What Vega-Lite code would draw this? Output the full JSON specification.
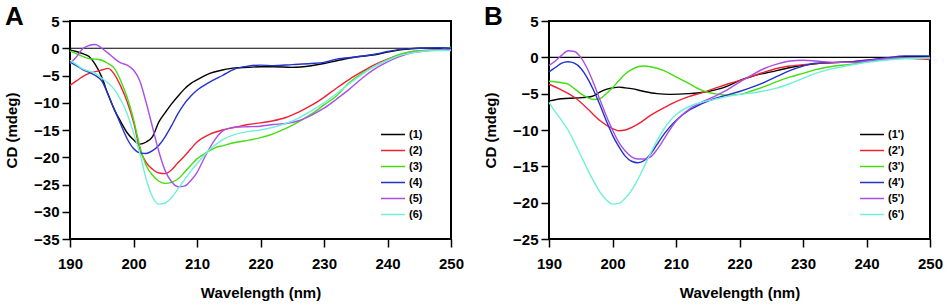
{
  "$schema": "https://vega.github.io/schema/vega-lite/v6.json",
  "background": "white",
  "padding": {"left": 3, "top": 3, "right": 0, "bottom": 0},
  "spacing": 17,
  "datasets": {
    "A": [
      {"s":"(1)","x":190,"y":-0.3},{"s":"(1)","x":191,"y":-0.6},{"s":"(1)","x":192,"y":-1},{"s":"(1)","x":193,"y":-1.5},{"s":"(1)","x":194,"y":-3},{"s":"(1)","x":195,"y":-5.3},{"s":"(1)","x":196,"y":-8.5},{"s":"(1)","x":197,"y":-11.3},{"s":"(1)","x":198,"y":-13.5},{"s":"(1)","x":199,"y":-15.5},{"s":"(1)","x":200,"y":-16.8},{"s":"(1)","x":201,"y":-17.6},{"s":"(1)","x":202,"y":-17.2},{"s":"(1)","x":203,"y":-16.2},{"s":"(1)","x":204,"y":-13.5},{"s":"(1)","x":205,"y":-11.8},{"s":"(1)","x":206,"y":-10.2},{"s":"(1)","x":207,"y":-8.8},{"s":"(1)","x":208,"y":-7.5},{"s":"(1)","x":209,"y":-6.5},{"s":"(1)","x":210,"y":-5.8},{"s":"(1)","x":212,"y":-4.6},{"s":"(1)","x":214,"y":-4},{"s":"(1)","x":216,"y":-3.6},{"s":"(1)","x":218,"y":-3.5},{"s":"(1)","x":220,"y":-3.4},{"s":"(1)","x":222,"y":-3.4},{"s":"(1)","x":225,"y":-3.5},{"s":"(1)","x":228,"y":-3.2},{"s":"(1)","x":230,"y":-2.8},{"s":"(1)","x":232,"y":-2.3},{"s":"(1)","x":235,"y":-1.6},{"s":"(1)","x":238,"y":-1.2},{"s":"(1)","x":240,"y":-0.7},{"s":"(1)","x":242,"y":-0.3},{"s":"(1)","x":245,"y":0},{"s":"(1)","x":248,"y":0},{"s":"(1)","x":250,"y":0},
      {"s":"(2)","x":190,"y":-6.8},{"s":"(2)","x":191,"y":-6},{"s":"(2)","x":192,"y":-5.2},{"s":"(2)","x":193,"y":-4.6},{"s":"(2)","x":194,"y":-4.3},{"s":"(2)","x":195,"y":-4},{"s":"(2)","x":196,"y":-3.7},{"s":"(2)","x":197,"y":-4.8},{"s":"(2)","x":198,"y":-7},{"s":"(2)","x":199,"y":-9.8},{"s":"(2)","x":200,"y":-13.5},{"s":"(2)","x":201,"y":-18.5},{"s":"(2)","x":202,"y":-21},{"s":"(2)","x":203,"y":-22.2},{"s":"(2)","x":204,"y":-22.9},{"s":"(2)","x":205,"y":-23},{"s":"(2)","x":206,"y":-22.3},{"s":"(2)","x":207,"y":-21},{"s":"(2)","x":208,"y":-19.8},{"s":"(2)","x":209,"y":-18.5},{"s":"(2)","x":210,"y":-17.2},{"s":"(2)","x":212,"y":-15.8},{"s":"(2)","x":214,"y":-15},{"s":"(2)","x":216,"y":-14.5},{"s":"(2)","x":218,"y":-14},{"s":"(2)","x":220,"y":-13.7},{"s":"(2)","x":222,"y":-13.3},{"s":"(2)","x":224,"y":-12.7},{"s":"(2)","x":226,"y":-11.7},{"s":"(2)","x":228,"y":-10.5},{"s":"(2)","x":230,"y":-9},{"s":"(2)","x":232,"y":-7.3},{"s":"(2)","x":234,"y":-5.7},{"s":"(2)","x":236,"y":-4.3},{"s":"(2)","x":238,"y":-3},{"s":"(2)","x":240,"y":-2},{"s":"(2)","x":242,"y":-1.2},{"s":"(2)","x":244,"y":-0.6},{"s":"(2)","x":246,"y":-0.4},{"s":"(2)","x":248,"y":-0.3},{"s":"(2)","x":250,"y":-0.2},
      {"s":"(3)","x":190,"y":-0.5},{"s":"(3)","x":192,"y":-1.5},{"s":"(3)","x":193,"y":-1.9},{"s":"(3)","x":194,"y":-2},{"s":"(3)","x":195,"y":-2.2},{"s":"(3)","x":196,"y":-2.8},{"s":"(3)","x":197,"y":-3.7},{"s":"(3)","x":198,"y":-6},{"s":"(3)","x":199,"y":-9},{"s":"(3)","x":200,"y":-13},{"s":"(3)","x":201,"y":-18},{"s":"(3)","x":202,"y":-21.5},{"s":"(3)","x":203,"y":-23.3},{"s":"(3)","x":204,"y":-24.4},{"s":"(3)","x":205,"y":-24.8},{"s":"(3)","x":206,"y":-24.6},{"s":"(3)","x":207,"y":-24},{"s":"(3)","x":208,"y":-22.8},{"s":"(3)","x":209,"y":-21.5},{"s":"(3)","x":210,"y":-20.3},{"s":"(3)","x":211,"y":-19.5},{"s":"(3)","x":212,"y":-18.8},{"s":"(3)","x":213,"y":-18.2},{"s":"(3)","x":214,"y":-17.9},{"s":"(3)","x":216,"y":-17.3},{"s":"(3)","x":218,"y":-16.9},{"s":"(3)","x":220,"y":-16.4},{"s":"(3)","x":222,"y":-15.7},{"s":"(3)","x":224,"y":-14.7},{"s":"(3)","x":226,"y":-13.5},{"s":"(3)","x":228,"y":-12.1},{"s":"(3)","x":230,"y":-10.4},{"s":"(3)","x":232,"y":-8.7},{"s":"(3)","x":234,"y":-6.3},{"s":"(3)","x":236,"y":-4.6},{"s":"(3)","x":238,"y":-3.3},{"s":"(3)","x":240,"y":-2.1},{"s":"(3)","x":242,"y":-1.1},{"s":"(3)","x":244,"y":-0.6},{"s":"(3)","x":246,"y":-0.4},{"s":"(3)","x":248,"y":-0.3},{"s":"(3)","x":250,"y":0.2},
      {"s":"(4)","x":190,"y":-2.5},{"s":"(4)","x":191,"y":-3.2},{"s":"(4)","x":192,"y":-3.9},{"s":"(4)","x":193,"y":-4.4},{"s":"(4)","x":194,"y":-5},{"s":"(4)","x":195,"y":-6},{"s":"(4)","x":196,"y":-8.5},{"s":"(4)","x":197,"y":-11.3},{"s":"(4)","x":198,"y":-14},{"s":"(4)","x":199,"y":-16.6},{"s":"(4)","x":200,"y":-18.4},{"s":"(4)","x":201,"y":-19.2},{"s":"(4)","x":202,"y":-19.3},{"s":"(4)","x":203,"y":-18.8},{"s":"(4)","x":204,"y":-17.8},{"s":"(4)","x":205,"y":-16.2},{"s":"(4)","x":206,"y":-14.2},{"s":"(4)","x":207,"y":-12},{"s":"(4)","x":208,"y":-10.2},{"s":"(4)","x":209,"y":-8.8},{"s":"(4)","x":210,"y":-7.7},{"s":"(4)","x":212,"y":-6.2},{"s":"(4)","x":214,"y":-5},{"s":"(4)","x":216,"y":-3.8},{"s":"(4)","x":218,"y":-3.3},{"s":"(4)","x":220,"y":-3.1},{"s":"(4)","x":222,"y":-3.2},{"s":"(4)","x":225,"y":-3},{"s":"(4)","x":228,"y":-2.8},{"s":"(4)","x":230,"y":-2.6},{"s":"(4)","x":232,"y":-2},{"s":"(4)","x":235,"y":-1.6},{"s":"(4)","x":238,"y":-1.1},{"s":"(4)","x":240,"y":-0.6},{"s":"(4)","x":242,"y":-0.2},{"s":"(4)","x":245,"y":0},{"s":"(4)","x":248,"y":0.1},{"s":"(4)","x":250,"y":0},
      {"s":"(5)","x":190,"y":-2.8},{"s":"(5)","x":191,"y":-1.6},{"s":"(5)","x":192,"y":-0.1},{"s":"(5)","x":193,"y":0.5},{"s":"(5)","x":194,"y":0.7},{"s":"(5)","x":195,"y":0},{"s":"(5)","x":196,"y":-0.9},{"s":"(5)","x":197,"y":-1.9},{"s":"(5)","x":198,"y":-2.7},{"s":"(5)","x":199,"y":-3.1},{"s":"(5)","x":200,"y":-4},{"s":"(5)","x":201,"y":-6},{"s":"(5)","x":202,"y":-10},{"s":"(5)","x":203,"y":-14.5},{"s":"(5)","x":204,"y":-19},{"s":"(5)","x":205,"y":-22.5},{"s":"(5)","x":206,"y":-24.5},{"s":"(5)","x":207,"y":-25.4},{"s":"(5)","x":208,"y":-25.3},{"s":"(5)","x":209,"y":-24.3},{"s":"(5)","x":210,"y":-22.8},{"s":"(5)","x":211,"y":-20.5},{"s":"(5)","x":212,"y":-18.3},{"s":"(5)","x":213,"y":-16.5},{"s":"(5)","x":214,"y":-15.2},{"s":"(5)","x":215,"y":-14.7},{"s":"(5)","x":216,"y":-14.5},{"s":"(5)","x":218,"y":-14.4},{"s":"(5)","x":220,"y":-14.3},{"s":"(5)","x":222,"y":-14},{"s":"(5)","x":224,"y":-13.8},{"s":"(5)","x":226,"y":-13.3},{"s":"(5)","x":228,"y":-12.3},{"s":"(5)","x":230,"y":-11},{"s":"(5)","x":232,"y":-9.3},{"s":"(5)","x":234,"y":-7.5},{"s":"(5)","x":236,"y":-5.5},{"s":"(5)","x":238,"y":-3.8},{"s":"(5)","x":240,"y":-2.5},{"s":"(5)","x":242,"y":-1.5},{"s":"(5)","x":244,"y":-0.8},{"s":"(5)","x":246,"y":-0.5},{"s":"(5)","x":248,"y":-0.3},{"s":"(5)","x":250,"y":-0.3},
      {"s":"(6)","x":190,"y":-2.2},{"s":"(6)","x":191,"y":-3},{"s":"(6)","x":192,"y":-3.8},{"s":"(6)","x":193,"y":-4.2},{"s":"(6)","x":194,"y":-4.6},{"s":"(6)","x":195,"y":-5.5},{"s":"(6)","x":196,"y":-6.4},{"s":"(6)","x":197,"y":-7.6},{"s":"(6)","x":198,"y":-9.5},{"s":"(6)","x":199,"y":-12},{"s":"(6)","x":200,"y":-15.5},{"s":"(6)","x":201,"y":-19.3},{"s":"(6)","x":202,"y":-24},{"s":"(6)","x":203,"y":-27.3},{"s":"(6)","x":204,"y":-28.6},{"s":"(6)","x":205,"y":-28.4},{"s":"(6)","x":206,"y":-27.4},{"s":"(6)","x":207,"y":-25.8},{"s":"(6)","x":208,"y":-24.2},{"s":"(6)","x":209,"y":-22.6},{"s":"(6)","x":210,"y":-21.2},{"s":"(6)","x":212,"y":-18.6},{"s":"(6)","x":214,"y":-16.8},{"s":"(6)","x":216,"y":-15.8},{"s":"(6)","x":218,"y":-15.3},{"s":"(6)","x":220,"y":-15},{"s":"(6)","x":222,"y":-14.5},{"s":"(6)","x":224,"y":-13.8},{"s":"(6)","x":226,"y":-12.8},{"s":"(6)","x":228,"y":-11.5},{"s":"(6)","x":230,"y":-10},{"s":"(6)","x":232,"y":-8.3},{"s":"(6)","x":234,"y":-6.5},{"s":"(6)","x":236,"y":-4.8},{"s":"(6)","x":238,"y":-3.3},{"s":"(6)","x":240,"y":-2.2},{"s":"(6)","x":242,"y":-1.3},{"s":"(6)","x":244,"y":-0.8},{"s":"(6)","x":246,"y":-0.5},{"s":"(6)","x":248,"y":-0.4},{"s":"(6)","x":250,"y":-0.4}
    ],
    "B": [
      {"s":"(1')","x":190,"y":-6},{"s":"(1')","x":192,"y":-5.7},{"s":"(1')","x":194,"y":-5.6},{"s":"(1')","x":196,"y":-5.5},{"s":"(1')","x":197,"y":-5.3},{"s":"(1')","x":198,"y":-4.8},{"s":"(1')","x":199,"y":-4.4},{"s":"(1')","x":200,"y":-4.2},{"s":"(1')","x":201,"y":-4.1},{"s":"(1')","x":202,"y":-4.2},{"s":"(1')","x":203,"y":-4.3},{"s":"(1')","x":205,"y":-4.7},{"s":"(1')","x":207,"y":-5},{"s":"(1')","x":209,"y":-5.1},{"s":"(1')","x":212,"y":-5},{"s":"(1')","x":215,"y":-4.7},{"s":"(1')","x":218,"y":-4},{"s":"(1')","x":220,"y":-3.2},{"s":"(1')","x":222,"y":-2.6},{"s":"(1')","x":225,"y":-2},{"s":"(1')","x":228,"y":-1.4},{"s":"(1')","x":230,"y":-1.1},{"s":"(1')","x":233,"y":-0.8},{"s":"(1')","x":236,"y":-0.7},{"s":"(1')","x":240,"y":-0.5},{"s":"(1')","x":243,"y":-0.2},{"s":"(1')","x":246,"y":0.1},{"s":"(1')","x":250,"y":0.1},
      {"s":"(2')","x":190,"y":-3.7},{"s":"(2')","x":192,"y":-4.5},{"s":"(2')","x":194,"y":-5.5},{"s":"(2')","x":196,"y":-7},{"s":"(2')","x":198,"y":-8.7},{"s":"(2')","x":200,"y":-9.8},{"s":"(2')","x":201,"y":-10.1},{"s":"(2')","x":202,"y":-10},{"s":"(2')","x":204,"y":-9.2},{"s":"(2')","x":206,"y":-8},{"s":"(2')","x":208,"y":-7},{"s":"(2')","x":210,"y":-6.1},{"s":"(2')","x":212,"y":-5.4},{"s":"(2')","x":214,"y":-4.9},{"s":"(2')","x":216,"y":-4.3},{"s":"(2')","x":218,"y":-3.7},{"s":"(2')","x":220,"y":-3.2},{"s":"(2')","x":222,"y":-2.6},{"s":"(2')","x":224,"y":-2},{"s":"(2')","x":226,"y":-1.5},{"s":"(2')","x":228,"y":-1.2},{"s":"(2')","x":230,"y":-1},{"s":"(2')","x":233,"y":-0.8},{"s":"(2')","x":236,"y":-0.7},{"s":"(2')","x":240,"y":-0.4},{"s":"(2')","x":245,"y":-0.1},{"s":"(2')","x":248,"y":-0.2},{"s":"(2')","x":250,"y":-0.3},
      {"s":"(3')","x":190,"y":-3.3},{"s":"(3')","x":192,"y":-3.5},{"s":"(3')","x":193,"y":-3.7},{"s":"(3')","x":194,"y":-4.3},{"s":"(3')","x":195,"y":-5},{"s":"(3')","x":196,"y":-5.5},{"s":"(3')","x":197,"y":-5.8},{"s":"(3')","x":198,"y":-5.7},{"s":"(3')","x":199,"y":-5},{"s":"(3')","x":200,"y":-4.2},{"s":"(3')","x":201,"y":-3.2},{"s":"(3')","x":202,"y":-2.3},{"s":"(3')","x":203,"y":-1.7},{"s":"(3')","x":204,"y":-1.3},{"s":"(3')","x":205,"y":-1.2},{"s":"(3')","x":206,"y":-1.3},{"s":"(3')","x":208,"y":-1.8},{"s":"(3')","x":210,"y":-2.7},{"s":"(3')","x":212,"y":-3.6},{"s":"(3')","x":214,"y":-4.5},{"s":"(3')","x":216,"y":-5},{"s":"(3')","x":218,"y":-5.2},{"s":"(3')","x":220,"y":-5.1},{"s":"(3')","x":222,"y":-4.6},{"s":"(3')","x":224,"y":-4},{"s":"(3')","x":226,"y":-3.3},{"s":"(3')","x":228,"y":-2.7},{"s":"(3')","x":230,"y":-2.2},{"s":"(3')","x":232,"y":-1.7},{"s":"(3')","x":235,"y":-1.2},{"s":"(3')","x":238,"y":-0.9},{"s":"(3')","x":240,"y":-0.6},{"s":"(3')","x":243,"y":-0.3},{"s":"(3')","x":246,"y":-0.1},{"s":"(3')","x":250,"y":0},
      {"s":"(4')","x":190,"y":-2},{"s":"(4')","x":191,"y":-1.4},{"s":"(4')","x":192,"y":-0.8},{"s":"(4')","x":193,"y":-0.6},{"s":"(4')","x":194,"y":-0.8},{"s":"(4')","x":195,"y":-1.5},{"s":"(4')","x":196,"y":-2.8},{"s":"(4')","x":197,"y":-4.5},{"s":"(4')","x":198,"y":-6.5},{"s":"(4')","x":199,"y":-8.7},{"s":"(4')","x":200,"y":-10.7},{"s":"(4')","x":201,"y":-12.3},{"s":"(4')","x":202,"y":-13.6},{"s":"(4')","x":203,"y":-14.3},{"s":"(4')","x":204,"y":-14.5},{"s":"(4')","x":205,"y":-14.2},{"s":"(4')","x":206,"y":-13.3},{"s":"(4')","x":207,"y":-12},{"s":"(4')","x":208,"y":-10.7},{"s":"(4')","x":209,"y":-9.6},{"s":"(4')","x":210,"y":-8.7},{"s":"(4')","x":212,"y":-7.3},{"s":"(4')","x":214,"y":-6.4},{"s":"(4')","x":216,"y":-5.7},{"s":"(4')","x":218,"y":-5.2},{"s":"(4')","x":220,"y":-4.7},{"s":"(4')","x":222,"y":-4.1},{"s":"(4')","x":224,"y":-3.4},{"s":"(4')","x":226,"y":-2.6},{"s":"(4')","x":228,"y":-1.8},{"s":"(4')","x":230,"y":-1.2},{"s":"(4')","x":232,"y":-0.8},{"s":"(4')","x":235,"y":-0.7},{"s":"(4')","x":238,"y":-0.6},{"s":"(4')","x":240,"y":-0.4},{"s":"(4')","x":243,"y":-0.1},{"s":"(4')","x":246,"y":0.2},{"s":"(4')","x":250,"y":0.2},
      {"s":"(5')","x":190,"y":-1.1},{"s":"(5')","x":191,"y":-0.5},{"s":"(5')","x":192,"y":0.3},{"s":"(5')","x":193,"y":0.9},{"s":"(5')","x":194,"y":0.8},{"s":"(5')","x":195,"y":0},{"s":"(5')","x":196,"y":-1.5},{"s":"(5')","x":197,"y":-3.5},{"s":"(5')","x":198,"y":-5.8},{"s":"(5')","x":199,"y":-8},{"s":"(5')","x":200,"y":-10},{"s":"(5')","x":201,"y":-11.7},{"s":"(5')","x":202,"y":-12.9},{"s":"(5')","x":203,"y":-13.7},{"s":"(5')","x":204,"y":-14},{"s":"(5')","x":205,"y":-14},{"s":"(5')","x":206,"y":-13.7},{"s":"(5')","x":207,"y":-12.7},{"s":"(5')","x":208,"y":-11.4},{"s":"(5')","x":209,"y":-10},{"s":"(5')","x":210,"y":-8.8},{"s":"(5')","x":212,"y":-7.2},{"s":"(5')","x":214,"y":-6.2},{"s":"(5')","x":216,"y":-5.4},{"s":"(5')","x":218,"y":-4.5},{"s":"(5')","x":220,"y":-3.4},{"s":"(5')","x":222,"y":-2.4},{"s":"(5')","x":224,"y":-1.5},{"s":"(5')","x":226,"y":-0.9},{"s":"(5')","x":228,"y":-0.5},{"s":"(5')","x":230,"y":-0.4},{"s":"(5')","x":232,"y":-0.5},{"s":"(5')","x":235,"y":-0.7},{"s":"(5')","x":238,"y":-0.7},{"s":"(5')","x":240,"y":-0.5},{"s":"(5')","x":243,"y":-0.2},{"s":"(5')","x":246,"y":-0.1},{"s":"(5')","x":250,"y":-0.1},
      {"s":"(6')","x":190,"y":-6.2},{"s":"(6')","x":191,"y":-7.5},{"s":"(6')","x":192,"y":-8.7},{"s":"(6')","x":193,"y":-10},{"s":"(6')","x":194,"y":-11.7},{"s":"(6')","x":195,"y":-13.5},{"s":"(6')","x":196,"y":-15.3},{"s":"(6')","x":197,"y":-17},{"s":"(6')","x":198,"y":-18.5},{"s":"(6')","x":199,"y":-19.6},{"s":"(6')","x":200,"y":-20.2},{"s":"(6')","x":201,"y":-20.1},{"s":"(6')","x":202,"y":-19.4},{"s":"(6')","x":203,"y":-18.3},{"s":"(6')","x":204,"y":-16.8},{"s":"(6')","x":205,"y":-15},{"s":"(6')","x":206,"y":-13.2},{"s":"(6')","x":207,"y":-11.5},{"s":"(6')","x":208,"y":-10},{"s":"(6')","x":209,"y":-8.8},{"s":"(6')","x":210,"y":-7.9},{"s":"(6')","x":212,"y":-6.8},{"s":"(6')","x":214,"y":-6.2},{"s":"(6')","x":216,"y":-5.8},{"s":"(6')","x":218,"y":-5.4},{"s":"(6')","x":220,"y":-5.1},{"s":"(6')","x":222,"y":-4.9},{"s":"(6')","x":224,"y":-4.6},{"s":"(6')","x":226,"y":-4.2},{"s":"(6')","x":228,"y":-3.6},{"s":"(6')","x":230,"y":-2.9},{"s":"(6')","x":232,"y":-2.2},{"s":"(6')","x":235,"y":-1.5},{"s":"(6')","x":238,"y":-1},{"s":"(6')","x":240,"y":-0.7},{"s":"(6')","x":243,"y":-0.4},{"s":"(6')","x":246,"y":-0.2},{"s":"(6')","x":250,"y":-0.1}
    ]
  },
  "hconcat": [
    {
      "width": 381, "height": 218,
      "title": {"text": "A", "anchor": "start", "frame": "group", "dx": -65, "dy": 16, "offset": 0},
      "layer": [
        {"data": {"values": [{}]}, "mark": {"type": "rule", "color": "#000", "strokeWidth": 1.2},
          "encoding": {"y": {"datum": 0, "type": "quantitative", "scale": {"domain": [-35, 5], "nice": false}, "axis": {"values": [-35, -30, -25, -20, -15, -10, -5, 0, 5], "title": "CD (mdeg)", "labelOverlap": false}}}},
        {
          "data": {"name": "A"},
          "mark": {"type": "line", "strokeWidth": 1.4, "interpolate": "monotone"},
          "encoding": {
            "x": {"field": "x", "type": "quantitative", "scale": {"domain": [190, 250], "nice": false}, "axis": {"values": [190, 200, 210, 220, 230, 240, 250], "title": "Wavelength (nm)", "labelOverlap": false}},
            "y": {"field": "y", "type": "quantitative", "scale": {"domain": [-35, 5], "nice": false}, "axis": {"values": [-35, -30, -25, -20, -15, -10, -5, 0, 5], "title": "CD (mdeg)", "labelOverlap": false}},
            "color": {"field": "s", "type": "nominal", "scale": {"domain": ["(1)", "(2)", "(3)", "(4)", "(5)", "(6)"], "range": ["#000000", "#ee2233", "#44dd11", "#2233cc", "#aa4ee8", "#70f0d8"]},
              "legend": {"orient": "none", "legendX": 311, "legendY": 107, "title": null}}
          }
        }
      ]
    },
    {
      "width": 381, "height": 218,
      "title": {"text": "B", "anchor": "start", "frame": "group", "dx": -65, "dy": 16, "offset": 0},
      "layer": [
        {"data": {"values": [{}]}, "mark": {"type": "rule", "color": "#000", "strokeWidth": 1.2},
          "encoding": {"y": {"datum": 0, "type": "quantitative", "scale": {"domain": [-25, 5], "nice": false}, "axis": {"values": [-25, -20, -15, -10, -5, 0, 5], "title": "CD (mdeg)", "labelOverlap": false}}}},
        {
          "data": {"name": "B"},
          "mark": {"type": "line", "strokeWidth": 1.4, "interpolate": "monotone"},
          "encoding": {
            "x": {"field": "x", "type": "quantitative", "scale": {"domain": [190, 250], "nice": false}, "axis": {"values": [190, 200, 210, 220, 230, 240, 250], "title": "Wavelength (nm)", "labelOverlap": false}},
            "y": {"field": "y", "type": "quantitative", "scale": {"domain": [-25, 5], "nice": false}, "axis": {"values": [-25, -20, -15, -10, -5, 0, 5], "title": "CD (mdeg)", "labelOverlap": false}},
            "color": {"field": "s", "type": "nominal", "scale": {"domain": ["(1')", "(2')", "(3')", "(4')", "(5')", "(6')"], "range": ["#000000", "#ee2233", "#44dd11", "#2233cc", "#aa4ee8", "#70f0d8"]},
              "legend": {"orient": "none", "legendX": 311, "legendY": 107, "title": null}}
          }
        }
      ]
    }
  ],
  "resolve": {"scale": {"color": "independent"}},
  "config": {
    "view": {"stroke": "#000", "strokeWidth": 2},
    "axis": {"domain": false, "grid": false, "tickColor": "#000", "tickSize": 8, "tickWidth": 1.5, "labelFont": "Liberation Sans", "labelFontWeight": "bold", "labelFontSize": 15, "labelColor": "#000", "labelFlush": false, "labelOverlap": false, "titleFont": "Liberation Sans", "titleFontWeight": "bold", "titleFontSize": 15, "titleColor": "#000"},
    "axisX": {"labelPadding": 9, "titlePadding": 14},
    "axisY": {"labelPadding": 3, "titlePadding": 14},
    "legend": {"labelFont": "Liberation Sans", "labelFontWeight": "bold", "labelFontSize": 11, "labelColor": "#000", "symbolType": "M-1.3,0H1.3", "symbolSize": 400, "symbolStrokeWidth": 1.5, "clipHeight": 13, "rowPadding": 3, "labelOffset": 6},
    "title": {"font": "Liberation Sans", "fontWeight": "bold", "fontSize": 26, "color": "#000", "baseline": "bottom"}
  }
}
